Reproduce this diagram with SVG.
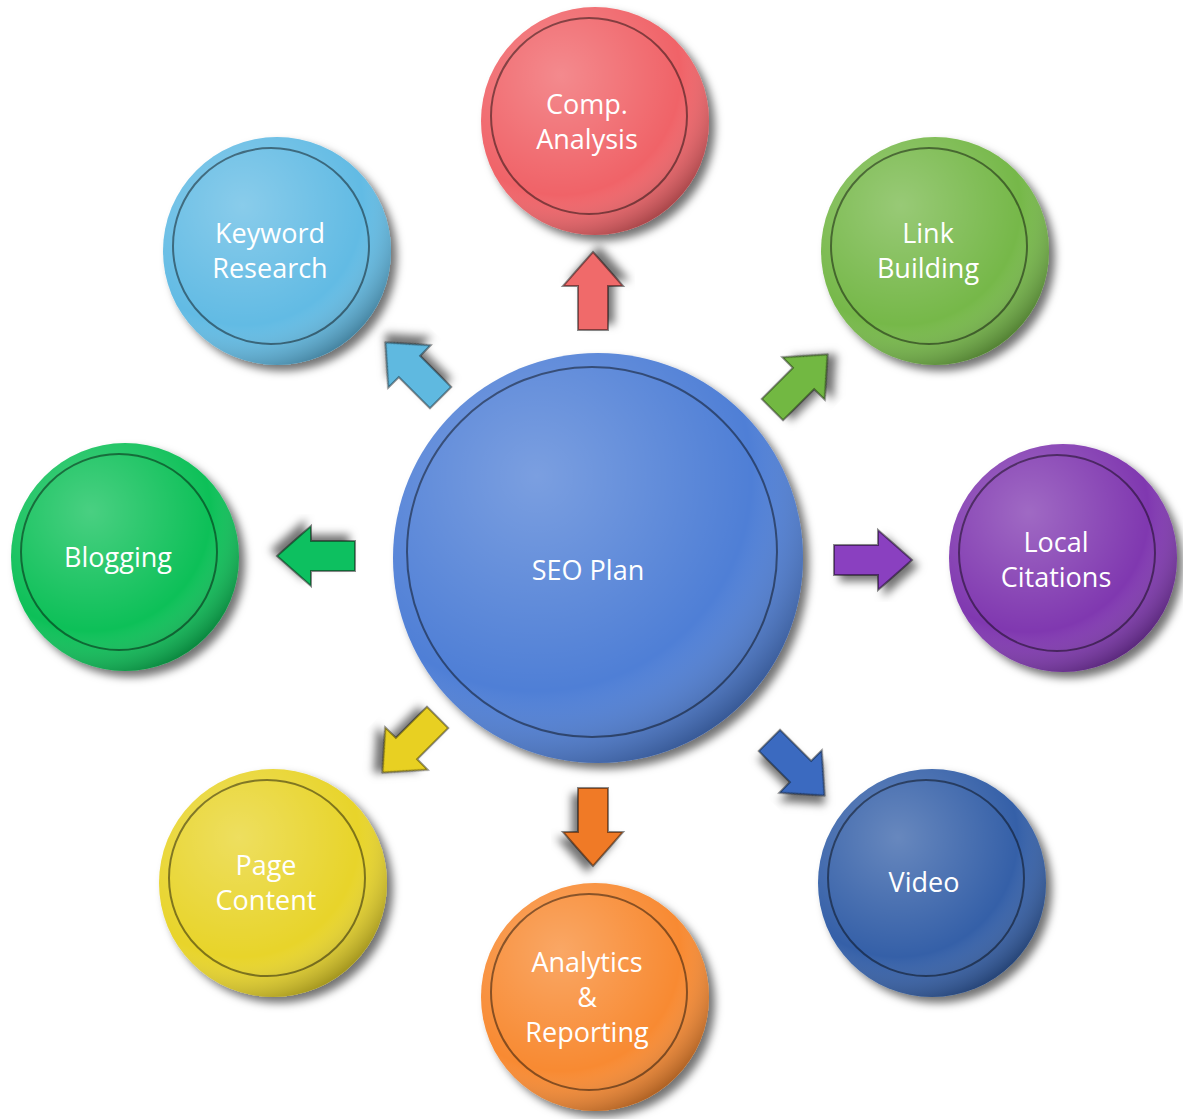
<svg xmlns="http://www.w3.org/2000/svg" width="1183" height="1119" viewBox="0 0 1183 1119">
<defs>
<filter id="sh" x="-20%" y="-20%" width="140%" height="140%"><feDropShadow dx="6" dy="6" stdDeviation="4" flood-color="#000" flood-opacity="0.55"/></filter>
<radialGradient id="gl" cx="35%" cy="30%" r="75%"><stop offset="0" stop-color="#fff" stop-opacity="0.25"/><stop offset="0.7" stop-color="#fff" stop-opacity="0"/><stop offset="1" stop-color="#000" stop-opacity="0.3"/></radialGradient>
<polygon id="ar" points="-39,-15 5,-15 5,-30 39,0 5,30 5,15 -39,15"/>
</defs>
<style>
.t{font-family:"Open Sans","Liberation Sans",sans-serif;fill:#fff;text-anchor:middle;font-size:27px}
.in{fill:none;stroke:#000;stroke-opacity:0.45;stroke-width:2}
.a{stroke:#000;stroke-opacity:0.45;stroke-width:2;filter:url(#sh)}
</style>
<rect width="1183" height="1119" fill="#fff"/>
<g id="connectors">
<use href="#ar" class="a" fill="#f06a6a" transform="translate(593,291) rotate(-90)"/>
<use href="#ar" class="a" fill="#5fb9e0" transform="translate(413,370) rotate(-135)"/>
<use href="#ar" class="a" fill="#72b843" transform="translate(800,382) rotate(-45)"/>
<use href="#ar" class="a" fill="#10c060" transform="translate(316,556) rotate(180)"/>
<use href="#ar" class="a" fill="#8a40c0" transform="translate(873,560)"/>
<use href="#ar" class="a" fill="#e8d020" transform="translate(410,745) rotate(135)"/>
<use href="#ar" class="a" fill="#f07a28" transform="translate(593,827) rotate(90)"/>
<use href="#ar" class="a" fill="#3a6ac0" transform="translate(797,768) rotate(45)"/>
</g>
<g id="seo"><circle cx="598" cy="558" r="205" fill="#4f7fd6" filter="url(#sh)"/><circle cx="598" cy="558" r="205" fill="url(#gl)"/><circle cx="592" cy="552" r="185" class="in"/><text class="t" x="588" y="580" font-size="54">SEO Plan</text></g>
<g id="comp"><circle cx="595" cy="121" r="114" fill="#f06468" filter="url(#sh)"/><circle cx="595" cy="121" r="114" fill="url(#gl)"/><circle cx="589" cy="116" r="98" class="in"/><text class="t" x="587" y="114">Comp.</text><text class="t" x="587" y="149">Analysis</text></g>
<g id="keyword"><circle cx="277" cy="251" r="114" fill="#62bbe4" filter="url(#sh)"/><circle cx="277" cy="251" r="114" fill="url(#gl)"/><circle cx="271" cy="246" r="98" class="in"/><text class="t" x="270" y="243">Keyword</text><text class="t" x="270" y="278">Research</text></g>
<g id="link"><circle cx="935" cy="251" r="114" fill="#76b84a" filter="url(#sh)"/><circle cx="935" cy="251" r="114" fill="url(#gl)"/><circle cx="929" cy="246" r="98" class="in"/><text class="t" x="928" y="243">Link</text><text class="t" x="928" y="278">Building</text></g>
<g id="blogging"><circle cx="125" cy="557" r="114" fill="#10c058" filter="url(#sh)"/><circle cx="125" cy="557" r="114" fill="url(#gl)"/><circle cx="119" cy="552" r="98" class="in"/><text class="t" x="118" y="567">Blogging</text></g>
<g id="local"><circle cx="1063" cy="558" r="114" fill="#8038b0" filter="url(#sh)"/><circle cx="1063" cy="558" r="114" fill="url(#gl)"/><circle cx="1057" cy="553" r="98" class="in"/><text class="t" x="1056" y="552">Local</text><text class="t" x="1056" y="587">Citations</text></g>
<g id="page"><circle cx="273" cy="883" r="114" fill="#e8d42c" filter="url(#sh)"/><circle cx="273" cy="883" r="114" fill="url(#gl)"/><circle cx="267" cy="878" r="98" class="in"/><text class="t" x="266" y="875">Page</text><text class="t" x="266" y="910">Content</text></g>
<g id="analytics"><circle cx="595" cy="997" r="114" fill="#f88a30" filter="url(#sh)"/><circle cx="595" cy="997" r="114" fill="url(#gl)"/><circle cx="589" cy="992" r="98" class="in"/><text class="t" x="587" y="972">Analytics</text><text class="t" x="587" y="1007">&amp;</text><text class="t" x="587" y="1042">Reporting</text></g>
<g id="video"><circle cx="932" cy="883" r="114" fill="#3460a8" filter="url(#sh)"/><circle cx="932" cy="883" r="114" fill="url(#gl)"/><circle cx="926" cy="878" r="98" class="in"/><text class="t" x="924" y="892">Video</text></g>
</svg>
